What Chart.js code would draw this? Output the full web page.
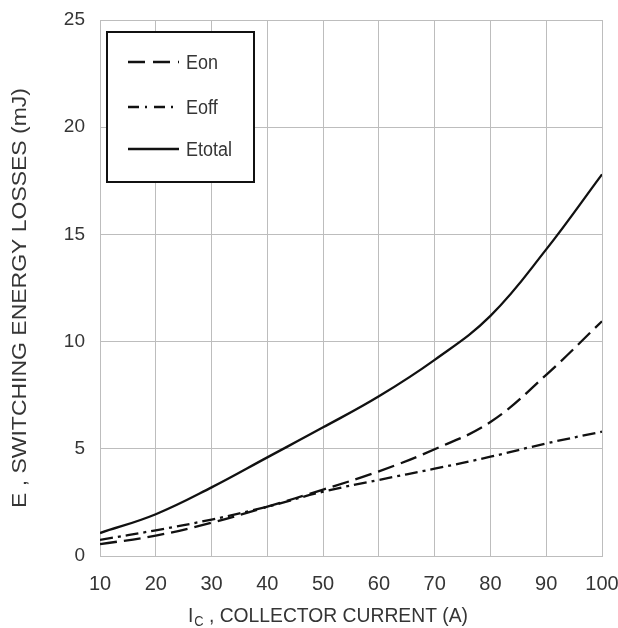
<!DOCTYPE html>
<html>
<head>
<meta charset="utf-8">
<script src="https://cdn.jsdelivr.net/npm/chart.js@4/dist/chart.umd.min.js"></script>
<style>
  html, body { margin: 0; padding: 0; background: #fff; }
  #wrap { width: 618px; height: 628px; position: relative; }
</style>
</head>
<body>
<div id="wrap"><canvas id="c"></canvas></div>
<script>
// Collector current (A)
const currentA = [10, 20, 30, 40, 50, 60, 70, 80, 90, 100];
// Switching energy losses (mJ)
const eOn    = [0.55, 0.95, 1.55, 2.3, 3.1, 3.95, 4.98, 6.25, 8.45, 10.95];
const eOff   = [0.75, 1.2, 1.7, 2.3, 3.0, 3.55, 4.07, 4.63, 5.25, 5.8];
const eTotal = [1.07, 1.95, 3.2, 4.6, 6.0, 7.45, 9.15, 11.2, 14.3, 17.8];
const seriesNames = ['Eon', 'Eoff', 'Etotal'];

const xTitleMain = 'I';
const xTitleSub = 'C';
const xTitleRest = ' , COLLECTOR CURRENT (A)';
const yTitle = 'E , SWITCHING ENERGY LOSSES (mJ)';

const TEXT = '#353535';
const GRID = '#bdbdbd';
const INK = '#111';
const FAMILY = "'Liberation Sans Narrow', 'Liberation Sans', Arial, sans-serif";

function toPoints(ys) { return currentA.map((x, i) => ({ x: x, y: ys[i] })); }

// Axis titles, drawn with horizontal compression to get the narrow face
const axisTitles = {
  id: 'axisTitles',
  afterDraw(chart) {
    const { ctx, chartArea: a } = chart;
    ctx.save();
    ctx.fillStyle = TEXT;
    ctx.textBaseline = 'alphabetic';
    ctx.textAlign = 'left';

    // x title with subscript
    const main = "21px 'Liberation Sans', Arial, sans-serif";
    const sub = "14px 'Liberation Sans', Arial, sans-serif";
    ctx.font = main;
    const w1 = ctx.measureText(xTitleMain).width;
    const w3 = ctx.measureText(xTitleRest).width;
    ctx.font = sub;
    const w2 = ctx.measureText(xTitleSub).width + 1;
    const total = w1 + w2 + w3;
    const sx = 280 / total;
    ctx.save();
    ctx.translate(a.left + 88, a.bottom + 66);
    ctx.scale(sx, 1);
    ctx.font = main;
    ctx.fillText(xTitleMain, 0, 0);
    ctx.font = sub;
    ctx.fillText(xTitleSub, w1 + 1, 4);
    ctx.font = main;
    ctx.fillText(xTitleRest, w1 + w2, 0);
    ctx.restore();

    // y title, rotated
    ctx.font = "20px 'Liberation Sans', Arial, sans-serif";
    const wy = ctx.measureText(yTitle).width;
    ctx.save();
    ctx.translate(26, a.top + 488);
    ctx.rotate(-Math.PI / 2);
    ctx.scale(420 / wy, 1);
    ctx.fillText(yTitle, 0, 0);
    ctx.restore();
    ctx.restore();
  }
};

// Boxed legend inside the plot area
const boxedLegend = {
  id: 'boxedLegend',
  afterDatasetsDraw(chart) {
    const { ctx, chartArea: a } = chart;
    const bx = a.left + 7, by = a.top + 12, bw = 147, bh = 150;
    ctx.save();
    ctx.fillStyle = '#fff';
    ctx.fillRect(bx, by, bw, bh);
    ctx.strokeStyle = INK;
    ctx.lineWidth = 2;
    ctx.strokeRect(bx, by, bw, bh);

    ctx.font = "20px 'Liberation Sans', Arial, sans-serif";
    const sx = 46 / ctx.measureText('Etotal').width;
    const rows = [30, 75, 117];
    chart.data.datasets.forEach((ds, i) => {
      const y = by + rows[i];
      ctx.beginPath();
      ctx.setLineDash(ds.legendDash || []);
      ctx.strokeStyle = ds.borderColor;
      ctx.lineWidth = 2.3;
      ctx.moveTo(bx + 21, y);
      ctx.lineTo(bx + 72, y);
      ctx.stroke();
      ctx.setLineDash([]);
      ctx.save();
      ctx.translate(bx + 79, y + 7);
      ctx.scale(sx, 1);
      ctx.fillStyle = TEXT;
      ctx.textBaseline = 'alphabetic';
      ctx.fillText(ds.label, 0, 0);
      ctx.restore();
    });
    ctx.restore();
  }
};

const common = {
  borderColor: INK,
  borderWidth: 2.3,
  pointRadius: 0,
  fill: false,
  tension: 0.4
};

new Chart(document.getElementById('c'), {
  type: 'line',
  data: {
    datasets: [
      Object.assign({}, common, { label: seriesNames[0], data: toPoints(eOn), borderDash: [17, 7], legendDash: [17, 8] }),
      Object.assign({}, common, { label: seriesNames[1], data: toPoints(eOff), borderDash: [13, 5, 3, 5], legendDash: [11, 6, 2, 7] }),
      Object.assign({}, common, { label: seriesNames[2], data: toPoints(eTotal) })
    ]
  },
  options: {
    responsive: true,
    maintainAspectRatio: false,
    animation: false,
    layout: { padding: { top: 20, right: 16, left: 0, bottom: 0 } },
    plugins: { legend: { display: false }, tooltip: { enabled: false } },
    scales: {
      x: {
        type: 'linear',
        min: 10, max: 100,
        border: { display: true, color: GRID, width: 1 },
        grid: { color: GRID, lineWidth: 1, drawTicks: false },
        ticks: { stepSize: 10, padding: 16, color: TEXT, font: { family: FAMILY, size: 20 } },
        afterFit(s) { s.height = 72; s.paddingLeft = 0; s.paddingRight = 0; }
      },
      y: {
        min: 0, max: 25,
        border: { display: true, color: GRID, width: 1 },
        grid: { color: GRID, lineWidth: 1, drawTicks: false },
        ticks: { stepSize: 5, padding: 15, color: TEXT, font: { family: FAMILY, size: 19 } },
        afterFit(s) { s.width = 100; s.paddingTop = 0; s.paddingBottom = 0; }
      }
    }
  },
  plugins: [axisTitles, boxedLegend]
});
</script>
</body>
</html>
